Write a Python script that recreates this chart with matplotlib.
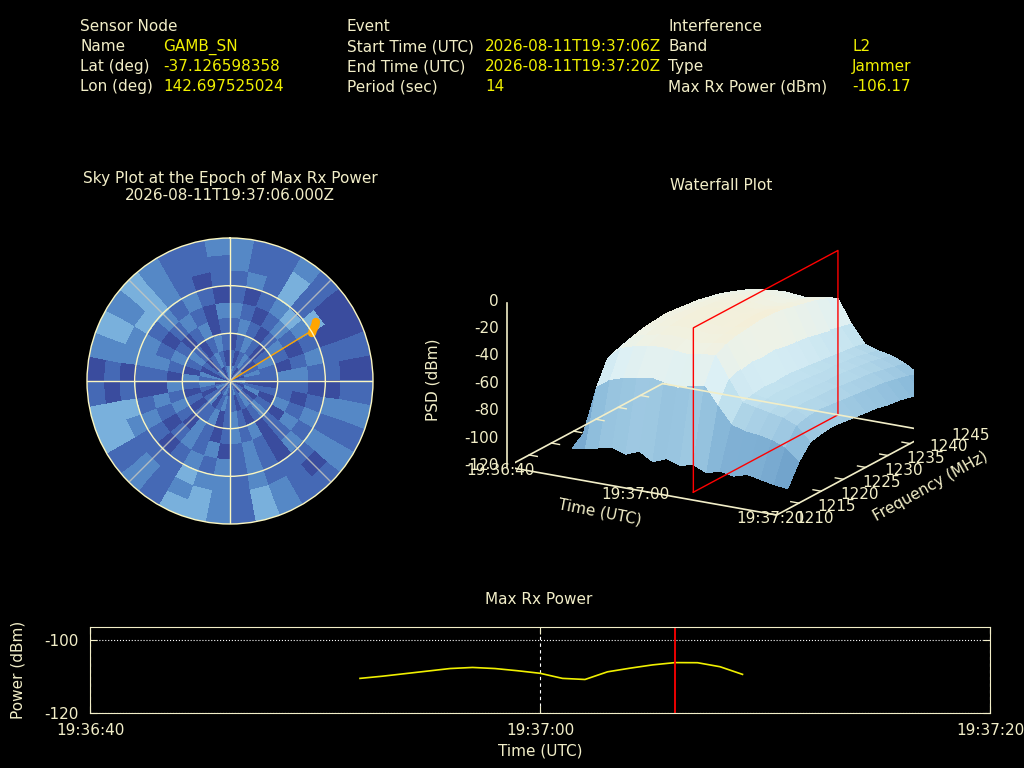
import matplotlib
matplotlib.use('Agg')
import matplotlib.pyplot as plt
import numpy as np
from matplotlib.colors import LinearSegmentedColormap, ListedColormap
from matplotlib.lines import Line2D
from mpl_toolkits.mplot3d import proj3d

# colours
cream = '#f2eec8'
yellow = '#f0f000'

# header info
sensor_labels = ['Name', 'Lat (deg)', 'Lon (deg)']
sensor_values = ['GAMB_SN', '-37.126598358', '142.697525024']
event_labels = ['Start Time (UTC)', 'End Time (UTC)', 'Period (sec)']
event_values = ['2026-08-11T19:37:06Z', '2026-08-11T19:37:20Z', '14']
interf_labels = ['Band', 'Type', 'Max Rx Power (dBm)']
interf_values = ['L2', 'Jammer', '-106.17']

epoch_text = '2026-08-11T19:37:06.000Z'

# time axis (seconds after 19:36:40)
time_ticks = [0, 20, 40]
time_labels = ['19:36:40', '19:37:00', '19:37:20']
peak_time = 26

# max rx power series
power_t = [12, 13, 14, 15, 16, 17, 18, 19, 20, 21, 22, 23, 24, 25, 26, 27, 28, 29]
power_dbm = [-110.5, -109.9, -109.2, -108.5, -107.8, -107.5, -107.8, -108.4, -109.1,
             -110.5, -110.8, -108.7, -107.7, -106.8, -106.17, -106.2, -107.3, -109.4]

# sky plot: signal level per 10 deg azimuth sector, one string per 10 deg elevation band
sky_el = [0, 10, 20, 30, 40, 50, 60, 70, 80]
sky_levels = [
    '211210 010121 211231 233121 331023 232112',
    '211310 010121 201231 232121 330123 232111',
    '121313 011021 211121 223111 231022 332101',
    '101232 121012 120121 212101 210122 121210',
    '210121 012101 210121 021210 120121 012102',
    '121012 102112 010212 101201 212012 101201',
    '012101 211010 121012 102110 101201 210121',
    '101210 121012 012101 121021 012120 101210',
    '121012 101210 120121 012101 210120 121012',
]
# interference source track (az, el in deg)
src_az = [55.5, 56.5, 57.5, 58.4, 59.7]
src_el = [24.4, 25.5, 27.0, 28.7, 30.2]

# waterfall data
wf_time = [8, 10, 12, 14, 16, 18, 20, 22, 24, 26, 28, 30, 32, 34, 36, 38, 40]
wf_freq = [1212.5, 1215, 1217.5, 1220, 1222.5, 1225, 1227.5, 1230, 1232.5, 1235,
           1237.5, 1240, 1242.5, 1245]
wf_psd = [
    [-104, -98, -95, -92, -90, -92, -94, -93, -95, -96, -97, -96, -98, -100],
    [-102, -62, -45, -42, -40, -41, -42, -40, -43, -45, -46, -48, -50, -55],
    [-100, -55, -36, -32, -30, -29, -28, -29, -30, -31, -33, -35, -38, -42],
    [-98, -52, -33, -29, -27, -26, -26, -27, -27, -28, -30, -32, -35, -40],
    [-101, -50, -31, -27, -25, -24, -24, -24, -25, -26, -28, -30, -33, -38],
    [-97, -48, -30, -26, -24, -23, -22, -23, -24, -25, -27, -29, -32, -37],
    [-103, -50, -31, -27, -25, -24, -23, -23, -24, -26, -28, -30, -33, -38],
    [-99, -52, -32, -28, -26, -25, -24, -24, -25, -27, -29, -31, -34, -39],
    [-102, -49, -30, -26, -24, -23, -22, -22, -23, -25, -27, -29, -32, -36],
    [-100, -47, -29, -25, -23, -22, -21, -21, -22, -24, -26, -28, -31, -35],
    [-104, -60, -45, -42, -40, -41, -40, -42, -43, -44, -46, -48, -50, -52],
    [-101, -72, -60, -58, -57, -58, -57, -58, -59, -60, -61, -62, -63, -65],
    [-103, -75, -62, -60, -59, -60, -60, -61, -62, -62, -63, -64, -66, -68],
    [-100, -76, -64, -62, -61, -62, -62, -63, -63, -64, -65, -66, -68, -70],
    [-102, -78, -66, -64, -63, -64, -64, -65, -66, -67, -68, -70, -72, -74],
    [-104, -82, -70, -68, -67, -68, -69, -70, -71, -72, -73, -75, -77, -80],
    [-105, -90, -80, -78, -77, -78, -79, -80, -81, -83, -84, -86, -88, -90],
]
freq_ticks = [1210, 1215, 1220, 1225, 1230, 1235, 1240, 1245]
psd_ticks = [-120, -100, -80, -60, -40, -20, 0]

plt.rcParams['font.family'] = 'DejaVu Sans'
plt.rcParams['font.size'] = 11
plt.rcParams['axes.unicode_minus'] = False

fig = plt.figure(figsize=(10.24, 7.68), dpi=100, facecolor='black')

# ---- header text ----
def block(x_lab, x_val, title, labels, values):
	rows = [0.966, 0.939, 0.913, 0.887]
	fig.text(x_lab, rows[0], title, color=cream, va='center', ha='left')
	for i in range(len(labels)):
		fig.text(x_lab, rows[i + 1], labels[i], color=cream, va='center', ha='left')
		fig.text(x_val, rows[i + 1], values[i], color=yellow, va='center', ha='left')

block(80/1024, 163/1024, 'Sensor Node', sensor_labels, sensor_values)
block(347/1024, 485/1024, 'Event', event_labels, event_values)
block(668/1024, 852/1024, 'Interference', interf_labels, interf_values)

# ---- sky plot ----
fig.text(230/1024, 1 - 187/768, 'Sky Plot at the Epoch of Max Rx Power\n' + epoch_text,
         color=cream, ha='center', va='center', linespacing=1.1)
axs = fig.add_axes([87/1024, 1 - 524/768, 286/1024, 286/768], projection='polar')
axs.set_facecolor('black')
axs.set_theta_zero_location('N')
axs.set_theta_direction(-1)

levels = np.array([[int(c) for c in s if c.isdigit()] for s in sky_levels])
r_edges = 90 - np.array(sky_el + [90])[::-1]
grid = levels[::-1]
th_edges = np.radians(np.arange(0, 361, 10))
sky_cmap = ListedColormap(['#3a4c9e', '#4569b5', '#5588c6', '#79b0dc'])
axs.pcolormesh(th_edges, r_edges, grid, cmap=sky_cmap, vmin=-0.5, vmax=3.5,
               shading='flat', edgecolors='face', linewidth=0.3, antialiased=False)

axs.set_ylim(0, 90)
axs.set_rticks([30, 60])
axs.set_xticks(np.radians(np.arange(0, 360, 45)))
axs.set_xticklabels([])
axs.set_yticklabels([])
axs.set_axisbelow(False)
axs.grid(True, color='#fbf6c0', linewidth=1, linestyle='-')
for i, gl in enumerate(axs.xaxis.get_gridlines()):
	if i % 2 == 1:
		gl.set_color('#c8c8c0')
		gl.set_alpha(0.8)
axs.spines['polar'].set_color('#fbf6c0')
axs.spines['polar'].set_linewidth(1)

az = np.radians(src_az)
rr = 90 - np.array(src_el)
axs.plot([az[3], az[3]], [0, rr[3]], color='orange', lw=1)
axs.plot(az, rr, color='orange', lw=6, solid_capstyle='round')

# ---- waterfall ----
fig.text(721/1024, 1 - 185/768, 'Waterfall Plot', color=cream, ha='center', va='center')
fig.text(433/1024, 1 - 380/768, 'PSD (dBm)', color=cream, ha='center', va='center', rotation=90)
fig.text(600/1024, 1 - 512/768, 'Time (UTC)', color=cream, ha='center', va='center', rotation=-11)
fig.text(931/1024, 1 - 486/768, 'Frequency (MHz)', color=cream, ha='center', va='center', rotation=29)
ax3 = fig.add_axes([0.365, 0.255, 0.665, 0.52], projection='3d')
ax3.set_facecolor('black')
ax3.set_proj_type('ortho')
T, F = np.meshgrid(wf_time, wf_freq, indexing='ij')
Z = np.array(wf_psd, dtype=float)
wf_cmap = LinearSegmentedColormap.from_list('wf', [
	(0.0, '#4a7ab5'), (0.167, '#6a9cc8'), (0.333, '#8fbedc'), (0.5, '#bfe0ee'),
	(0.625, '#dcf0f5'), (0.75, '#eef2e6'), (0.833, '#f5efd6'), (1.0, '#fbf3d0')])
ax3.plot_surface(T, F, Z, cmap=wf_cmap, vmin=-120, vmax=0, linewidth=0,
                 antialiased=False, shade=False, rstride=1, cstride=1)

# epoch plane
fmin, fmax = wf_freq[0], wf_freq[-1]
ax3.plot([peak_time]*5, [fmin, fmax, fmax, fmin, fmin], [-120, -120, 0, 0, -120],
         color='red', lw=1, zorder=10)

ax3.set_xlim(0, 40)
ax3.set_ylim(1210, 1245)
ax3.set_zlim(-120, 0)
# base frame, ticks and labels drawn gnuplot-style
ax3.plot([0, 40, 40, 0, 0], [1210, 1210, 1245, 1245, 1210], [-120]*5, color=cream, lw=1.2, zorder=20)
for z in psd_ticks:
	ax3.plot([0, 1.0], [1210, 1210], [z, z], color=cream, lw=1, zorder=20)
	ax3.text(-1.2, 1210, z, str(z), color=cream, ha='right', va='center', fontsize=11)
for t, lab in zip(time_ticks, time_labels):
	ax3.text(t, 1208.5, -120, lab, color=cream, ha='center', va='center', fontsize=11)
for f in freq_ticks:
	ax3.plot([40, 38.8], [f, f], [-120, -120], color=cream, lw=1, zorder=20)
	ax3.plot([0, 1.2], [f, f], [-120, -120], color=cream, lw=1, zorder=20)
	ax3.text(42.8, f, -120, str(f), color=cream, ha='left', va='center', fontsize=11)

ax3.set_xticks([])
ax3.set_yticks([])
ax3.set_zticks([])
for axis in (ax3.xaxis, ax3.yaxis, ax3.zaxis):
	axis.set_pane_color((0, 0, 0, 0))
	axis.line.set_color((0, 0, 0, 0))
ax3.grid(False)
ax3.view_init(elev=18, azim=-60)
ax3.set_box_aspect((1, 1, 0.555), zoom=1.15)

# z axis line at the front-left corner, placed in the projected plane
fig.canvas.draw()
zx, zy, _ = proj3d.proj_transform(np.array([0.0, 0.0]), np.array([1210.0, 1210.0]),
                                   np.array([-120.0, 0.0]), ax3.get_proj())
fig.add_artist(Line2D(zx, zy, transform=ax3.transData, color=cream, lw=1.2))

# ---- max rx power ----
fig.text(539/1024, 1 - 600/768, 'Max Rx Power', color=cream, ha='center', va='center')
axp = fig.add_axes([90/1024, 1 - 713/768, 900/1024, 86/768])
axp.set_facecolor('black')
axp.plot(power_t, power_dbm, color=yellow, lw=1.2)
axp.axvline(peak_time, color='#ff0000', lw=1.3)
axp.set_xlim(0, 40)
axp.set_ylim(-120, -96.4)
axp.set_xticks(time_ticks)
axp.set_xticklabels(time_labels)
axp.set_yticks([-120, -100])
axp.grid(True, axis='x', color='white', linestyle=(0, (3, 3)), linewidth=0.8)
axp.grid(True, axis='y', color='white', linestyle=':', linewidth=0.8)
axp.tick_params(colors=cream, direction='in', top=True, right=True, length=5)
axp.tick_params(axis='x', pad=7)
axp.tick_params(axis='y', pad=8)
for s in axp.spines.values():
	s.set_color(cream)
axp.set_xlabel('Time (UTC)', color=cream, labelpad=4)
axp.set_ylabel('Power (dBm)', color=cream, labelpad=14)

plt.savefig('out.png', dpi=100, facecolor='black')
